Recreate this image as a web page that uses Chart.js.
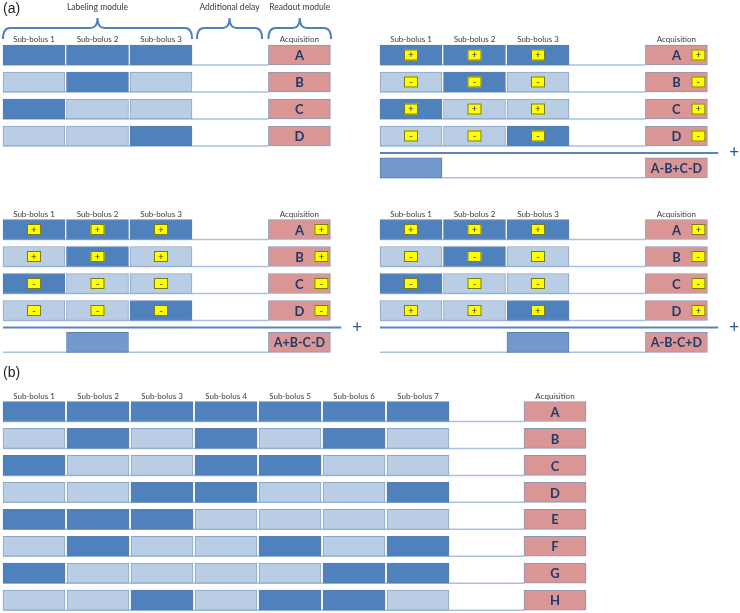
<!DOCTYPE html>
<html lang="en">
<head>
<meta charset="UTF-8">
<title>Sub-bolus encoding schemes</title>
<script src="https://cdn.jsdelivr.net/npm/chart.js"></script>
<style>
  body { margin: 0; background: #fff; }
  #wrap { position: relative; width: 740px; height: 613px; }
  .panel { position: absolute; }
</style>
</head>
<body>
<div id="wrap">
  <div class="panel"><canvas id="cTL"></canvas></div>
  <div class="panel"><canvas id="cTR"></canvas></div>
  <div class="panel"><canvas id="cBL"></canvas></div>
  <div class="panel"><canvas id="cBR"></canvas></div>
  <div class="panel"><canvas id="cB"></canvas></div>
</div>
<script>
// (a) 4x3 encoding: 1 = labelled sub-bolus (dark), 0 = control (light)
const subBolusA = ['Sub-bolus 1', 'Sub-bolus 2', 'Sub-bolus 3'];
const acqLettersA = ['A', 'B', 'C', 'D'];
const encodingA = [
    [1, 1, 1],
    [0, 1, 0],
    [1, 0, 0],
    [0, 0, 1]
];
const moduleLabels = ['Labeling module', 'Additional delay', 'Readout module'];
const signsTR = ['+', '-', '+', '-'];
const signsBL = ['+', '+', '-', '-'];
const signsBR = ['+', '-', '-', '+'];
const resultCols = [0, 1, 2];   // decoded sub-bolus for TR, BL, BR
const resultLabels = ['A-B+C-D', 'A+B-C-D', 'A-B-C+D'];

// (b) 8x7 encoding
const subBolusB = ['Sub-bolus 1', 'Sub-bolus 2', 'Sub-bolus 3', 'Sub-bolus 4', 'Sub-bolus 5', 'Sub-bolus 6', 'Sub-bolus 7'];
const acqLettersB = ['A', 'B', 'C', 'D', 'E', 'F', 'G', 'H'];
const encodingB = [
    [1, 1, 1, 1, 1, 1, 1],
    [0, 1, 0, 1, 0, 1, 0],
    [1, 0, 0, 1, 1, 0, 0],
    [0, 0, 1, 1, 0, 0, 1],
    [1, 1, 1, 0, 0, 0, 0],
    [0, 1, 0, 0, 1, 0, 1],
    [1, 0, 0, 0, 0, 1, 1],
    [0, 0, 1, 0, 1, 1, 0]
];

const DARK = '#4f81bd', LIGHT = '#b9cde5', MID = '#7399cc', PINK = '#d99694';
const INK = '#1f3a6b', TXT = '#3a3a3a', LINE = '#4f81bd';
const BAR = 20;

// panel layout: page box, first column left edge / pitch, first row centre / pitch
const A_COMMON = { w: 370, h: 180, cp: 63.5, rp: 27, cw: 0.976, acq: 4.18, head: -0.56 };
const LAYOUT = {
    tl: Object.assign({ left: 0, top: 0, x0: 3, y0: 55 }, A_COMMON),
    tr: Object.assign({ left: 370, top: 0, x0: 380, y0: 55 }, A_COMMON),
    bl: Object.assign({ left: 0, top: 180, x0: 3, y0: 229.5 }, A_COMMON),
    br: Object.assign({ left: 370, top: 180, x0: 380, y0: 229.5 }, A_COMMON),
    b: { left: 0, top: 360, w: 740, h: 253, x0: 3, y0: 411.5, cp: 64, rp: 26.95, cw: 0.969, acq: 8.14, head: -0.575 }
};
const SEP_ROW = 3.63, RES_ROW = 4.18;

function text(ctx, str, x, y, font, color, align) {
    ctx.font = font;
    ctx.fillStyle = color;
    ctx.textAlign = align || 'center';
    ctx.textBaseline = 'middle';
    ctx.fillText(str, x, y);
}

function signBox(ctx, s, cx, cy) {
    ctx.fillStyle = '#ffff00';
    ctx.fillRect(cx - 7, cy - 5.5, 14, 11);
    ctx.strokeStyle = '#7a7a1a';
    ctx.lineWidth = 1;
    ctx.strokeRect(cx - 6.5, cy - 5, 13, 10);
    text(ctx, s, cx, cy, '10px Lato', '#333', 'center');
}

function brace(ctx, xl, xr, yEnd, yMid, yPeak) {
    const xc = (xl + xr) / 2, r = 7;
    ctx.beginPath();
    ctx.moveTo(xl, yEnd);
    ctx.quadraticCurveTo(xl, yMid, xl + r, yMid);
    ctx.lineTo(xc - r, yMid);
    ctx.quadraticCurveTo(xc, yMid, xc, yPeak);
    ctx.quadraticCurveTo(xc, yMid, xc + r, yMid);
    ctx.lineTo(xr - r, yMid);
    ctx.quadraticCurveTo(xr, yMid, xr, yEnd);
    ctx.strokeStyle = LINE;
    ctx.lineWidth = 2;
    ctx.stroke();
}

function makePanel(id, lay, spec) {
    const canvas = document.getElementById(id);
    const box = canvas.parentNode;
    box.style.left = lay.left + 'px';
    box.style.top = lay.top + 'px';
    box.style.width = lay.w + 'px';
    box.style.height = lay.h + 'px';

    const cells = [], acq = [], res = [];
    spec.enc.forEach((row, r) => {
        row.forEach((on, c) => cells.push({ x: [c, c + lay.cw], y: r, on: on }));
        acq.push({ x: [lay.acq, lay.acq + lay.cw], y: r });
    });
    const hasResult = spec.resultCol !== undefined;
    if (hasResult) {
        res.push({ x: [spec.resultCol, spec.resultCol + lay.cw], y: RES_ROW, fill: MID, edge: '#5d80ad' });
        res.push({ x: [lay.acq, lay.acq + lay.cw], y: RES_ROW, fill: PINK, edge: '#8797b5' });
    }

    const bar = { grouped: false, barThickness: BAR, borderWidth: 1, borderSkipped: false };

    const panelPlugin = {
        id: 'panel_' + id,
        beforeDatasetsDraw(chart) {
            const ctx = chart.ctx, X = chart.scales.x, Y = chart.scales.y;
            ctx.save();
            ctx.strokeStyle = '#a9c1df';
            ctx.lineWidth = 1.5;
            const rowsToLine = spec.enc.map((_, r) => r);
            if (hasResult) rowsToLine.push(RES_ROW);
            rowsToLine.forEach(r => {
                const yb = Y.getPixelForValue(r) + BAR / 2;
                ctx.beginPath();
                ctx.moveTo(X.getPixelForValue(0), yb);
                ctx.lineTo(X.getPixelForValue(lay.acq), yb);
                ctx.stroke();
            });
            ctx.restore();
        },
        afterDatasetsDraw(chart) {
            const ctx = chart.ctx, X = chart.scales.x, Y = chart.scales.y;
            ctx.save();
            const headY = Y.getPixelForValue(lay.head);
            spec.heads.forEach((h, c) => {
                text(ctx, h, X.getPixelForValue(c + lay.cw / 2), headY, '8px Lato', TXT);
            });
            text(ctx, 'Acquisition', X.getPixelForValue(lay.acq + lay.cw / 2), headY, '8px Lato', TXT);

            const acqL = X.getPixelForValue(lay.acq), acqR = X.getPixelForValue(lay.acq + lay.cw);
            spec.letters.forEach((l, r) => {
                const yc = Y.getPixelForValue(r);
                text(ctx, l, (acqL + acqR) / 2, yc + 1, 'bold 13px Lato', INK);
                if (spec.signs) {
                    spec.enc[r].forEach((_, c) => signBox(ctx, spec.signs[r], X.getPixelForValue(c + lay.cw / 2), yc));
                    signBox(ctx, spec.signs[r], acqR - 9, yc);
                }
            });

            if (hasResult) {
                const ys = Y.getPixelForValue(SEP_ROW);
                ctx.strokeStyle = '#5b84b8';
                ctx.lineWidth = 2;
                ctx.beginPath();
                ctx.moveTo(X.getPixelForValue(0), ys);
                ctx.lineTo(X.getPixelForValue(lay.acq + lay.cw + 0.17), ys);
                ctx.stroke();
                text(ctx, '+', X.getPixelForValue(lay.acq + lay.cw + 0.42), ys, '17px Lato', '#2f5592');
                text(ctx, spec.resultLabel, (acqL + acqR) / 2, Y.getPixelForValue(RES_ROW) + 1, 'bold 12.5px Lato', INK);
            }

            if (spec.modules) {
                const yEnd = Y.getPixelForValue(-0.59), yMid = Y.getPixelForValue(-1.0);
                const yPeak = Y.getPixelForValue(-1.37), yLab = Y.getPixelForValue(-1.78);
                const spans = [[0, 2 + lay.cw], [3.055, 4.08], [lay.acq, lay.acq + lay.cw + 0.01]];
                spans.forEach((s, i) => {
                    const xl = X.getPixelForValue(s[0]), xr = X.getPixelForValue(s[1]);
                    brace(ctx, xl, xr, yEnd, yMid, yPeak);
                    text(ctx, spec.modules[i], (xl + xr) / 2, yLab, '8.5px Lato', TXT);
                });
            }
            if (spec.tag) {
                text(ctx, spec.tag, X.getPixelForValue(0), Y.getPixelForValue(spec.tagRow), '14px "Liberation Sans"', '#222', 'left');
            }
            ctx.restore();
        }
    };

    return new Chart(canvas, {
        type: 'bar',
        data: {
            datasets: [
                Object.assign({
                    data: cells,
                    backgroundColor: c => (c.raw && c.raw.on) ? DARK : LIGHT,
                    borderColor: c => (c.raw && c.raw.on) ? '#5a7eac' : '#8ba4c6'
                }, bar),
                Object.assign({ data: acq, backgroundColor: PINK, borderColor: '#8797b5' }, bar),
                Object.assign({
                    data: res,
                    backgroundColor: c => c.raw ? c.raw.fill : MID,
                    borderColor: c => c.raw ? c.raw.edge : '#5d80ad'
                }, bar)
            ]
        },
        options: {
            indexAxis: 'y',
            responsive: true,
            maintainAspectRatio: false,
            animation: false,
            layout: { padding: 0 },
            plugins: { legend: { display: false }, tooltip: { enabled: false } },
            scales: {
                x: {
                    type: 'linear', display: false, offset: false,
                    min: (lay.left - lay.x0) / lay.cp,
                    max: (lay.left + lay.w - lay.x0) / lay.cp
                },
                y: {
                    type: 'linear', display: false, offset: false, reverse: true,
                    min: (lay.top - lay.y0) / lay.rp,
                    max: (lay.top + lay.h - lay.y0) / lay.rp
                }
            }
        },
        plugins: [panelPlugin]
    });
}

makePanel('cTL', LAYOUT.tl, {
    heads: subBolusA, letters: acqLettersA, enc: encodingA,
    modules: moduleLabels, tag: '(a)', tagRow: -1.7
});
makePanel('cTR', LAYOUT.tr, {
    heads: subBolusA, letters: acqLettersA, enc: encodingA, signs: signsTR,
    resultCol: resultCols[0], resultLabel: resultLabels[0]
});
makePanel('cBL', LAYOUT.bl, {
    heads: subBolusA, letters: acqLettersA, enc: encodingA, signs: signsBL,
    resultCol: resultCols[1], resultLabel: resultLabels[1]
});
makePanel('cBR', LAYOUT.br, {
    heads: subBolusA, letters: acqLettersA, enc: encodingA, signs: signsBR,
    resultCol: resultCols[2], resultLabel: resultLabels[2]
});
makePanel('cB', LAYOUT.b, {
    heads: subBolusB, letters: acqLettersB, enc: encodingB,
    tag: '(b)', tagRow: -1.43
});
</script>
</body>
</html>
